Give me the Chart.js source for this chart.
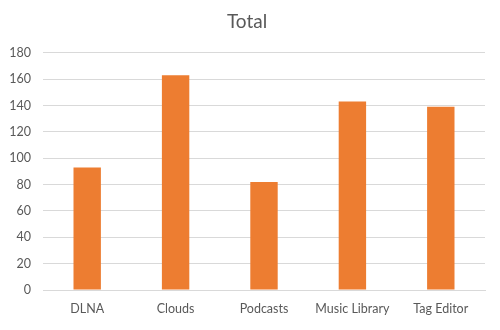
<!DOCTYPE html>
<html><head><meta charset="utf-8">
<script src="https://cdn.jsdelivr.net/npm/chart.js@4/dist/chart.umd.min.js"></script>
<style>html,body{margin:0;padding:0;background:#fff}#w{width:500px;height:330px}</style>
</head><body><div id="w"><canvas id="c"></canvas></div>
<script>
const categories = ["DLNA", "Clouds", "Podcasts", "Music Library", "Tag Editor"];
const totals = [93, 163, 82, 143, 139];
const yTicks = [0, 20, 40, 60, 80, 100, 120, 140, 160, 180];

Chart.defaults.font.family = "Lato, 'Open Sans', sans-serif";
new Chart(document.getElementById('c'), {
  type: 'bar',
  data: { labels: categories, datasets: [{ label: 'Total', data: totals, backgroundColor: '#ED7D31', barPercentage: 0.31, categoryPercentage: 1.0 }] },
  options: {
    responsive: true, maintainAspectRatio: false, animation: false,
    layout: { padding: { left: 9, right: 15, top: 6, bottom: 3 } },
    plugins: {
      legend: { display: false },
      tooltip: { enabled: false },
      title: { display: true, text: 'Total', color: '#595959', font: { size: 19, weight: 'normal' }, padding: { top: 4, bottom: 20 } }
    },
    scales: {
      x: {
        grid: { display: false, drawTicks: false },
        border: { color: '#D9D9D9' },
        ticks: { color: '#595959', font: { size: 12.5 }, padding: 11 }
      },
      y: {
        min: 0, max: 180,
        afterBuildTicks: (s) => { s.ticks = yTicks.map(v => ({ value: v })); },
        afterFit: (s) => { s.width = 34; },
        grid: { color: '#D9D9D9', drawTicks: false },
        border: { display: false },
        ticks: { color: '#595959', font: { size: 12.5 }, padding: 12 }
      }
    }
  }
});
</script></body></html>
